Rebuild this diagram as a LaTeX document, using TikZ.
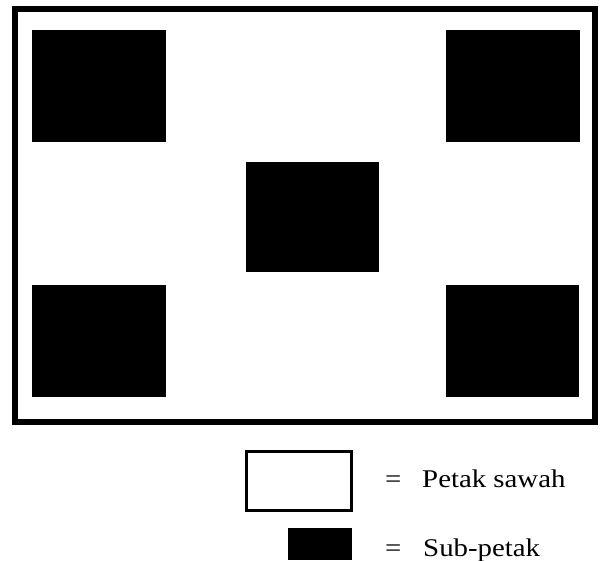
\documentclass[tikz,border=0pt]{standalone}
\usepackage{fontspec}
\setmainfont{Liberation Serif}
\begin{document}
\begin{tikzpicture}[x=1pt,y=-1pt,
  subpetak/.style={fill=black,draw=none},
  petak/.style={draw=black,line width=6pt,fill=white},
  legbox/.style={draw=black,line width=3pt,fill=white},
  lab/.style={anchor=base west,inner sep=0pt,xscale=1.13,font=\fontsize{25.5}{28}\selectfont}]
\useasboundingbox (0,0) rectangle (600,560);
\path[petak] (15,9) rectangle (595,422);
\path[subpetak] (32,30) rectangle (166,142);
\path[subpetak] (446,30) rectangle (580,142);
\path[subpetak] (246,162) rectangle (379,272);
\path[subpetak] (32,285) rectangle (166,397);
\path[subpetak] (446,285) rectangle (579,397);
\path[legbox] (246.5,451.5) rectangle (351.5,510.5);
\path[subpetak] (288,528) rectangle (352,560);
\node[lab] (eq1) at (385,487) {=};
\node[lab] (t1) at (422,487) {Petak sawah};
\node[lab] (eq2) at (385,556) {=};
\node[lab] (t2) at (423,556) {Sub-petak};
\end{tikzpicture}
\end{document}
